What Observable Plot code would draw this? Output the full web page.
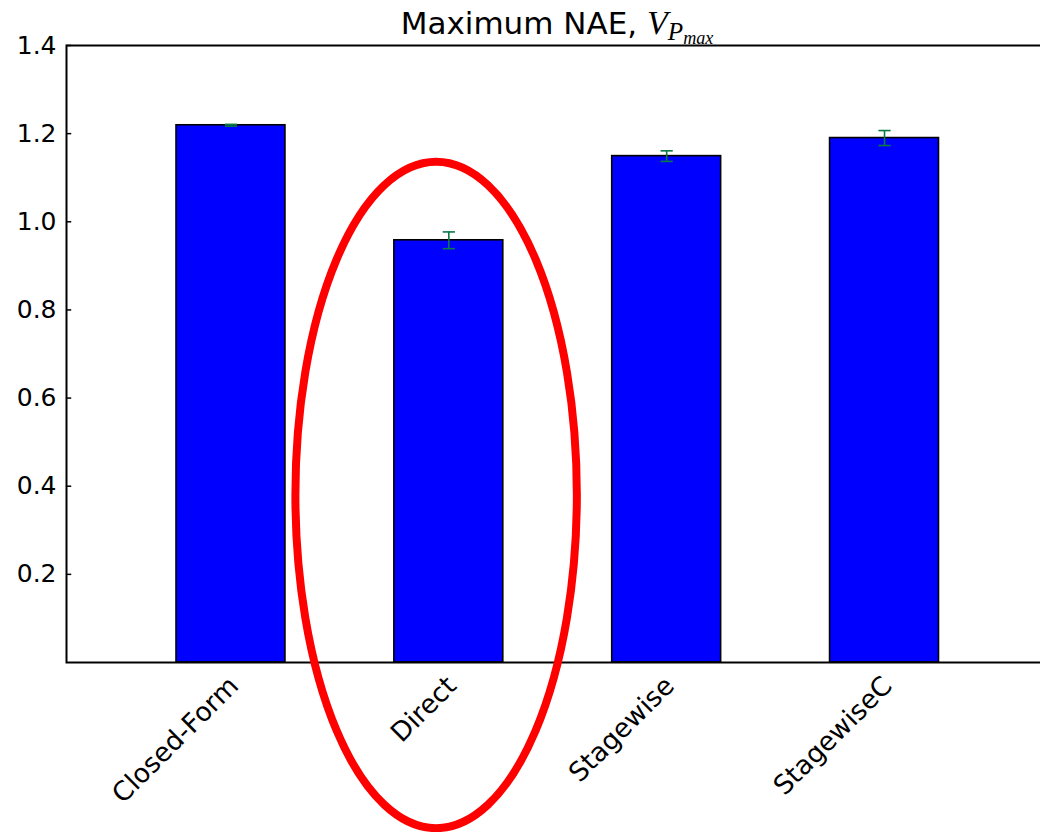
<!DOCTYPE html>
<html>
<head>
<meta charset="utf-8">
<script src="https://cdn.jsdelivr.net/npm/d3@7"></script>
<script src="https://cdn.jsdelivr.net/npm/@observablehq/plot@0.6"></script>
<style>
  body { margin: 0; background: #fff; overflow: hidden; }
  #wrap { position: relative; width: 1040px; height: 832px; }
  #title {
    position: absolute; left: 66px; width: 982px; top: 5px;
    text-align: center; font: 31px "DejaVu Sans"; line-height: 35px;
    color: #000; white-space: nowrap; z-index: 2;
  }
  #title .m { font-family: "Liberation Serif"; font-style: italic; font-size: 34px; }
  #title sub { font-size: 0.74em; vertical-align: -0.25em; }
  #title sub sub { font-size: 0.72em; vertical-align: -0.2em; }
</style>
</head>
<body>
<div id="wrap">
  <div id="title">Maximum NAE, <span class="m">V<sub>P<sub>max</sub></sub></span></div>
  <div id="chart"></div>
</div>
<script>
// Methods compared and their maximum NAE with error
const methods = ["Closed-Form", "Direct", "Stagewise", "StagewiseC"];
const nae = [1.219, 0.958, 1.149, 1.190];
const naeErr = [0.002, 0.019, 0.012, 0.017];
const yTicks = [0.2, 0.4, 0.6, 0.8, 1.0, 1.2, 1.4];

const rows = methods.map((m, i) => ({m, i, v: nae[i], e: naeErr[i]}));

const xMin = -0.755, xMax = 3.755;
const barHalf = 0.25, capHalf = 0.028;

// Red highlight ellipse around the "Direct" bar (data units)
const ring = {cx: 0.944, cy: 0.379, rx: 0.646, ry: 0.756};

const chart = Plot.plot({
  width: 1040,
  height: 832,
  marginTop: 45,
  marginBottom: 170,
  marginLeft: 66,
  marginRight: -8.5,
  style: {fontFamily: "DejaVu Sans", fontSize: "25px", background: "white", color: "black"},
  x: {type: "linear", domain: [xMin, xMax], axis: null},
  y: {domain: [0, 1.4], axis: null},
  marks: [
    Plot.rect(rows, {
      x1: d => d.i - barHalf, x2: d => d.i + barHalf,
      y1: () => 0, y2: "v",
      fill: "#0000ff", stroke: "black", strokeWidth: 1.6
    }),
    // error bars
    Plot.ruleX(rows, {x: "i", y1: d => d.v - d.e, y2: d => d.v + d.e, stroke: "#0a7a45", strokeWidth: 1.6}),
    Plot.link(rows, {x1: d => d.i - capHalf, x2: d => d.i + capHalf, y1: d => d.v + d.e, y2: d => d.v + d.e, stroke: "#0a7a45", strokeWidth: 1.6}),
    Plot.link(rows, {x1: d => d.i - capHalf, x2: d => d.i + capHalf, y1: d => d.v - d.e, y2: d => d.v - d.e, stroke: "#0a7a45", strokeWidth: 1.6}),
    // axes frame
    Plot.frame({stroke: "black", strokeWidth: 2}),
    // inward y ticks
    Plot.ruleY(yTicks, {y: d => d, x1: () => xMin, x2: () => xMin + 0.024, stroke: "black", strokeWidth: 1.5}),
    Plot.axisY(yTicks, {tickSize: 0, tickPadding: 10, tickFormat: d3.format(".1f"), fontSize: 25, label: null, fill: "black"}),
    // rotated category labels
    Plot.text(rows, {
      x: "i", text: "m", frameAnchor: "bottom",
      rotate: -45, textAnchor: "end", dx: 9, dy: 25,
      fontSize: 26.5, fill: "black"
    }),
    // highlight ring
    (index, scales) => {
      const cx = scales.x(ring.cx), cy = scales.y(ring.cy);
      const rx = scales.x(ring.cx + ring.rx) - cx;
      const ry = cy - scales.y(ring.cy + ring.ry);
      return d3.create("svg:ellipse")
        .attr("cx", cx).attr("cy", cy).attr("rx", rx).attr("ry", ry)
        .attr("fill", "none").attr("stroke", "#ff0000").attr("stroke-width", 8)
        .node();
    }
  ]
});

document.getElementById("chart").appendChild(chart);
</script>
</body>
</html>
